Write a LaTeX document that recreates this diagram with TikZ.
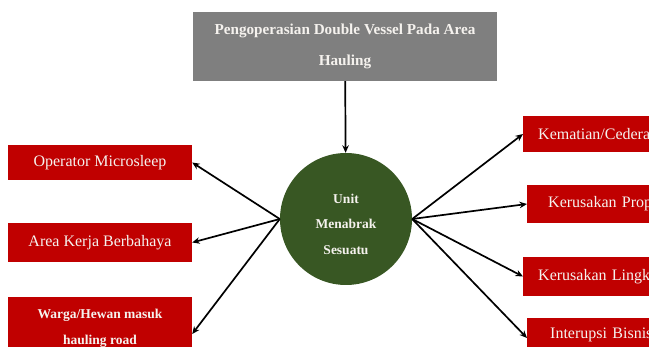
\documentclass[tikz,border=0pt]{standalone}
\usepackage{fontspec}
\setmainfont{Liberation Serif}
\usetikzlibrary{arrows.meta}
\definecolor{boxgray}{RGB}{127,127,127}
\definecolor{boxred}{RGB}{192,0,0}
\definecolor{unitgreen}{RGB}{56,87,35}
\definecolor{paper}{RGB}{245,242,238}
\tikzset{
  causebox/.style={fill=boxred, text=paper, minimum width=184pt, inner sep=0pt, align=center},
  effectbox/.style={fill=boxred, text=paper, anchor=west, text width=220pt, inner ysep=0pt, align=left},
  link/.style={line width=1.7pt, -{Stealth[length=7.5pt,width=6.5pt]}}
}
\begin{document}
\begin{tikzpicture}[x=1pt,y=-1pt]
        \useasboundingbox (0,0) rectangle (649,347);
        \clip (0,0) rectangle (649,347);
        %top box
        \node[fill=boxgray, text=paper, minimum width=304pt, minimum height=69pt, align=center,
              font=\fontsize{15.2}{31}\selectfont\bfseries] (top) at (345,46.5)
              {Pengoperasian Double Vessel Pada Area\\Hauling};
        
        %the unit in the middle
        \node[circle, fill=unitgreen, minimum size=132pt, inner sep=0pt] (unit) at (346,219) {};
        \node[text=paper, align=center, font=\fontsize{13.5}{25.5}\selectfont\bfseries] (unittxt) at (346,224)
              {Unit\\Menabrak\\Sesuatu};
        
        %causes on the left
        \node[causebox, minimum height=35pt, font=\fontsize{16}{18}\selectfont] (micro) at (100,162.5) {Operator Microsleep};
        \node[causebox, minimum height=39pt, font=\fontsize{16}{18}\selectfont] (area) at (100,242.5) {Area Kerja Berbahaya};
        \node[causebox, minimum height=62pt, font=\fontsize{13.5}{26}\selectfont\bfseries] (warga) at (100,328) {Warga/Hewan masuk\\hauling road};
        
        %effects on the right
        \node[effectbox, minimum height=36pt, inner xsep=15pt, font=\fontsize{16}{18}\selectfont] (mati) at (523,134) {Kematian/Cedera};
        \node[effectbox, minimum height=38pt, inner xsep=21pt, font=\fontsize{16}{18}\selectfont] (prop) at (527,204) {Kerusakan Properti};
        \node[effectbox, minimum height=39pt, inner xsep=15pt, font=\fontsize{16}{18}\selectfont] (lingk) at (523,276.5) {Kerusakan Lingkungan};
        \node[effectbox, minimum height=34pt, inner xsep=23pt, font=\fontsize{16}{18}\selectfont] (bisnis) at (527,335) {Interupsi Bisnis};
        
        \draw[link] (top) -- (unit);
        \draw[link] (unit.west) -- (micro.east);
        \draw[link] (unit.west) -- (area.east);
        \draw[link] (unit.west) -- ([yshift=-6pt]warga.east);
        \draw[link] (unit.east) -- (mati.west);
        \draw[link] (unit.east) -- (prop.west);
        \draw[link] (unit.east) -- (lingk.west);
        \draw[link] (unit.east) -- ([yshift=-3pt]bisnis.west);
        
    \end{tikzpicture}
\end{document}
